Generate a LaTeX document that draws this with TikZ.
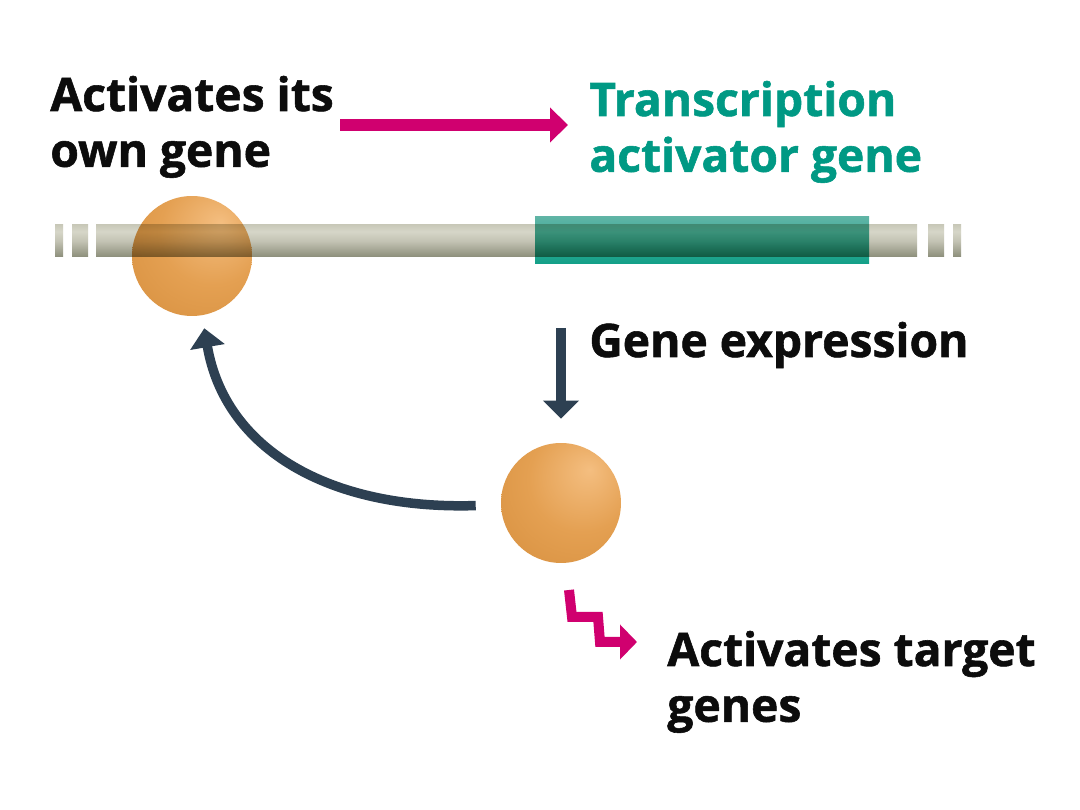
\documentclass[tikz,border=0pt]{standalone}
\usepackage{fontspec}
\setmainfont{Open Sans}[BoldFeatures={FakeBold=1.2}]
\usetikzlibrary{arrows.meta}
\definecolor{pinkc}{RGB}{208,0,111}
\definecolor{darkc}{RGB}{45,64,82}
\definecolor{tealtxt}{RGB}{0,153,132}
\definecolor{txtblack}{RGB}{12,12,12}
\definecolor{ballhi}{RGB}{244,190,128}
\definecolor{ballmid}{RGB}{228,160,82}
\definecolor{balllo}{RGB}{210,138,56}
\definecolor{bdark}{RGB}{70,74,58}
\definecolor{blow}{RGB}{140,142,122}
\definecolor{bmid}{RGB}{195,195,180}
\definecolor{blight}{RGB}{214,214,200}
\definecolor{bup}{RGB}{188,188,170}
\definecolor{btop}{RGB}{158,158,138}
\definecolor{tealtop}{RGB}{95,180,165}
\definecolor{tealbot}{RGB}{18,160,136}
\pgfdeclareradialshading{ballshade}{\pgfpoint{12bp}{14bp}}{color(0bp)=(ballhi); color(22bp)=(ballmid); color(52bp)=(balllo); color(75bp)=(balllo)}
\pgfdeclareverticalshading{barshade}{100bp}{color(0bp)=(bdark); color(25bp)=(blow); color(50bp)=(bmid); color(65bp)=(blight); color(85bp)=(bup); color(100bp)=(btop)}
\tikzset{
  lbl/.style={inner sep=0pt, font=\fontsize{26.3}{31.75}\selectfont\bfseries, text=txtblack},
  ball/.style={circle, minimum size=2.4cm, inner sep=0pt, shading=ballshade},
  barpiece/.style={shading=barshade},
  pinkarr/.style={draw=pinkc, line width=0.24cm, -{Triangle[length=0.36cm,width=0.68cm]}},
  zigarr/.style={draw=pinkc, line width=0.2cm, miter limit=10, -{Triangle[length=0.34cm,width=0.68cm]}},
  darkarr/.style={draw=darkc, line width=0.19cm, -{Triangle[length=0.38cm,width=0.68cm]}},
  downarr/.style={draw=darkc, line width=0.2cm, -{Triangle[length=0.36cm,width=0.7cm]}}
}
\begin{document}
\begin{tikzpicture}[x=0.02cm,y=-0.02cm]
\useasboundingbox[fill=white] (0,0) rectangle (1080,810);
% teal gene block
\shade[top color=tealtop, bottom color=tealbot] (535,217) rectangle (869,264);
% protein on the gene
\node[ball] (p1) at (192,256) {};
% chromosome bar, multiplied over the block and the protein
\begin{scope}[blend mode=multiply]
  \shade[barpiece] (55,225) rectangle (63,257);
  \shade[barpiece] (72,225) rectangle (88,257);
  \shade[barpiece] (96,225) rectangle (917,257);
  \shade[barpiece] (928,225) rectangle (944,257);
  \shade[barpiece] (953,225) rectangle (961,257);
\end{scope}
% second protein
\node[ball] (p2) at (561,503) {};
% labels
\node[lbl, anchor=base west] (t1) at (50,111) {\begin{tabular}[t]{@{}l@{}}Activates its\\own gene\end{tabular}};
\node[lbl, anchor=base west, text=tealtxt] (t2) at (589,116) {\begin{tabular}[t]{@{}l@{}}Transcription\\activator gene\end{tabular}};
\node[lbl, anchor=base west] (t3) at (589,357) {Gene expression};
\node[lbl, anchor=base west] (t4) at (667,666) {\begin{tabular}[t]{@{}l@{}}Activates target\\genes\end{tabular}};
% connectors
\coordinate (pa) at (340,125);
\coordinate (pb) at (568,125);
\draw[pinkarr] (pa) -- (pb);
\coordinate (ge) at (561,328);
\draw[downarr, shorten >=0.48cm] (ge) -- (p2);
\draw[darkarr, shorten <=0.5cm, shorten >=0.26cm] (p2) .. controls (330,510) and (225,450) .. (p1);
\coordinate (z0) at (569,590);
\coordinate (z1) at (572,617);
\coordinate (z2) at (598,617);
\coordinate (z3) at (600,642);
\coordinate (z4) at (637,642);
\draw[zigarr] (z0) -- (z1) -- (z2) -- (z3) -- (z4);
\end{tikzpicture}
\end{document}
